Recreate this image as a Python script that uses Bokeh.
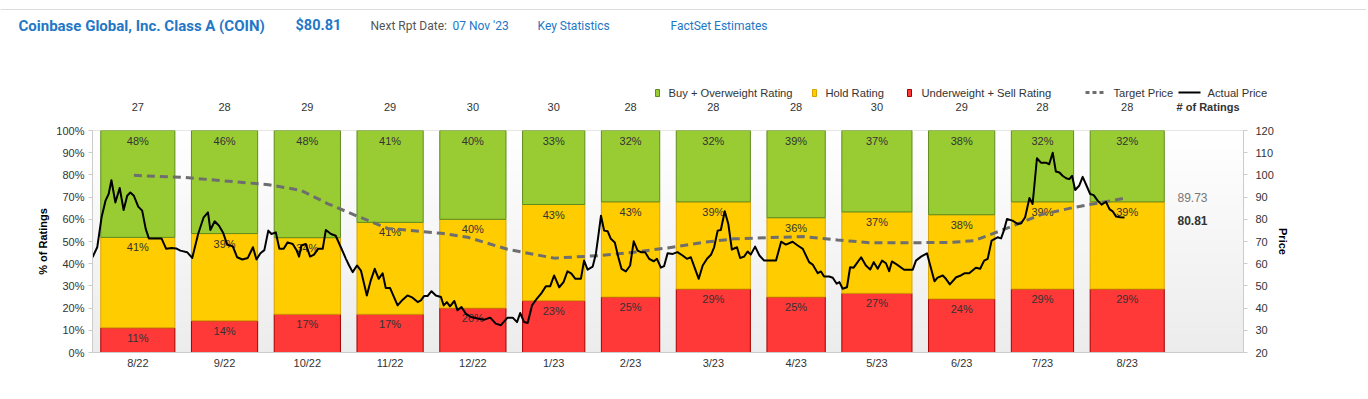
import numpy as np
from bokeh.plotting import figure
from bokeh.layouts import column
from bokeh.models import (Range1d, LinearAxis, FixedTicker, PrintfTickFormatter,
                          Label, Span, ColumnDataSource)
from bokeh.embed import file_html
from bokeh.resources import INLINE
from bokeh.core.properties import value

# ---------------- data ----------------
months = ["8/22", "9/22", "10/22", "11/22", "12/22", "1/23", "2/23",
          "3/23", "4/23", "5/23", "6/23", "7/23", "8/23"]
trading_days = [23, 21, 21, 21, 21, 20, 19, 23, 19, 22, 21, 20, 23]
buy_counts = [13, 13, 14, 12, 12, 10, 9, 9, 11, 11, 11, 9, 9]
hold_counts = [11, 11, 10, 12, 12, 13, 12, 11, 10, 11, 11, 11, 11]
sell_counts = [3, 4, 5, 5, 6, 7, 7, 8, 7, 8, 7, 8, 8]

# actual price, x = trading-day index from 1 Aug 2022
price_day = [0, 1.2, 2.3, 3.3, 4.1, 4.8, 5.8, 6.9, 7.9, 8.8,
             9.6, 10.5, 11.6, 12.6, 13.5, 14.3, 17.5, 18.7, 20.1, 21.2,
             22.3, 24.0, 25.3, 26.8, 28.2, 29.3, 29.9, 31.0, 32.1, 33.1,
             34.2, 35.6, 36.7, 38.0, 39.4, 40.7, 41.6, 42.6, 43.6, 44.6,
             45.4, 46.5, 47.4, 48.5, 49.5, 50.8, 51.8, 52.4, 53.0, 54.1,
             55.2, 56.2, 57.2, 58.4, 59.2, 60.5, 61.7, 63.0, 64.3, 65.1,
             66.0, 67.1, 68.1, 69.6, 70.6, 71.6, 72.6, 73.6, 74.4, 75.5,
             77.4, 78.7, 79.9, 81.2, 82.5, 83.3, 84.1, 85.0, 86.0, 87.1,
             88.4, 89.1, 89.9, 90.7, 91.8, 92.6, 93.6, 94.7, 96.0, 97.7,
             99.4, 100.9, 102.3, 103.6, 105.3, 106.6, 107.7, 108.5, 109.5, 110.4,
             111.5, 112.7, 113.8, 115.0, 116.1, 117.1, 118.4, 119.5, 120.5, 121.5,
             122.5, 123.9, 124.7, 125.6, 126.9, 127.7, 128.3, 129.0, 129.8, 130.7,
             131.5, 132.5, 133.4, 134.2, 135.3, 136.4, 137.3, 138.3, 139.1, 140.2,
             141.2, 142.4, 143.2, 144.2, 145.0, 145.9, 147.2, 148.4, 149.7, 150.8,
             151.8, 152.8, 153.8, 154.8, 155.9, 156.9, 157.7, 158.6, 159.4, 160.4,
             161.3, 162.2, 163.5, 164.3, 165.3, 166.2, 167.0, 168.1, 169.2, 170.4,
             171.7, 173.4, 174.7, 175.9, 177.6, 178.9, 180.2, 181.8, 182.7, 184.0,
             184.8, 185.6, 186.9, 187.8, 188.8, 189.5, 190.3, 191.4, 192.2, 193.1,
             195.0, 196.2, 197.3, 198.2, 199.2, 200.3, 201.3, 202.1, 202.8, 204.1,
             205.9, 208.1, 208.9, 210.2, 211.7, 213.6, 214.4, 215.7, 216.5, 217.5,
             219.1, 220.3, 221.3, 222.4, 224.1, 225.2, 226.2, 227.1, 228.1, 229.6,
             230.5, 231.2, 232.0, 233.4, 234.7, 235.6, 236.6, 237.7, 238.5, 239.6,
             240.6, 241.9, 242.7, 243.6, 244.4, 245.3, 246.1, 247.0, 247.8, 248.5,
             249.3, 250.3, 251.2, 252.0, 253.1, 254.0, 255.0, 256.0, 257.1, 258.0,
             258.8, 259.7, 260.7, 261.8]
price_val = [62.9, 67.4, 80.9, 88.4, 91.4, 97.6, 87.6, 94.1, 84.2, 90.6,
             92.1, 90.6, 85.7, 83.9, 75.7, 71.4, 71.4, 66.7, 67.1, 66.9,
             65.9, 65.2, 62.6, 73.4, 80.9, 83.1, 75.2, 79.1, 77.1, 74.1,
             68.5, 67.8, 62.9, 61.9, 62.6, 67.4, 61.9, 64.7, 66.1, 74.9,
             73.4, 74.1, 66.7, 66.7, 69.6, 68.9, 65.9, 63.2, 68.2, 68.9,
             63.2, 64.1, 66.7, 66.7, 75.2, 73.4, 72.6, 67.4, 62.2, 59.2,
             56.2, 59.2, 56.9, 45.7, 52.5, 57.7, 53.2, 55.7, 49.0, 49.0,
             41.2, 43.8, 45.7, 44.7, 42.7, 43.5, 45.4, 45.4, 47.6, 45.7,
             45.0, 41.2, 42.7, 40.8, 43.2, 39.0, 40.5, 37.5, 36.0, 35.3,
             34.8, 35.7, 33.0, 32.3, 35.7, 35.7, 33.7, 37.8, 33.7, 33.3,
             41.2, 44.2, 46.5, 49.8, 49.8, 54.7, 49.4, 51.7, 56.6, 55.5,
             53.2, 53.2, 61.4, 57.3, 58.7, 64.4, 72.2, 81.6, 74.9, 74.6,
             71.2, 69.6, 62.9, 57.7, 56.5, 59.2, 70.1, 65.9, 65.2, 65.2,
             62.2, 61.1, 62.2, 58.2, 58.9, 64.7, 64.4, 65.2, 63.7, 62.2,
             62.9, 58.0, 53.2, 59.2, 62.2, 64.0, 67.4, 74.9, 75.2, 83.6,
             77.9, 66.4, 67.4, 62.6, 63.2, 65.5, 64.1, 67.7, 63.7, 61.4,
             61.4, 61.4, 69.9, 68.6, 69.9, 68.2, 66.7, 60.7, 59.6, 55.7,
             56.5, 54.2, 54.2, 53.7, 51.0, 51.7, 48.7, 49.4, 58.4, 58.2,
             62.9, 59.2, 57.4, 60.7, 57.7, 61.4, 60.2, 56.6, 61.0, 59.6,
             57.3, 57.3, 61.4, 63.2, 64.7, 52.1, 53.7, 54.7, 53.2, 50.7,
             53.9, 54.7, 55.7, 55.7, 58.2, 57.7, 61.4, 62.2, 70.4, 71.9,
             71.4, 74.9, 80.1, 79.4, 77.9, 78.2, 80.9, 89.6, 86.9, 107.5,
             105.5, 105.5, 104.8, 110.0, 101.5, 101.1, 99.6, 98.5, 98.1, 99.6,
             93.2, 95.1, 99.1, 95.9, 91.4, 90.9, 88.4, 86.6, 87.9, 84.6,
             83.6, 81.2, 80.9, 80.81]

target_day = [10.5, 23.6, 44.7, 52.9, 59.6, 67.2, 74.9, 88.4, 95.2, 105.3,
              117.1, 129.0, 137.4, 145.9, 154.9, 162.8, 174.6, 180.6, 189.0,
              197.5, 206.0, 217.8, 223.7, 232.2, 240.6, 249.1, 262.6]
target_val = [99.8, 98.8, 95.6, 93.0, 87.1, 81.4, 75.9, 73.7, 71.9, 66.5,
              62.5, 63.7, 65.2, 67.1, 69.6, 71.2, 71.9, 72.2, 70.7,
              69.4, 69.4, 69.6, 70.4, 76.1, 82.1, 85.4, 89.73]

assert len(price_day) == len(price_val)
assert len(target_day) == len(target_val)

# ---------------- styling / layout ----------------
FONT = "Liberation Sans"
HFONT = "Roboto"
BLUE = "#2277c6"
TXT = "#333333"
GREEN, GREEN_E = "#99cc33", "#5f8c1c"
YELLOW, YELLOW_E = "#ffcc00", "#d9a400"
RED, RED_E = "#ff3838", "#a30000"
TARGET_C = "#6e6e6e"

W = 1366
TOP_H = 118          # header strip height
MAIN_H = 280         # chart height
F_LEFT, F_RIGHT = 92, 1243   # frame edges on the page
F_TOP, F_BOT = 130, 352
X_END = 292
K = (F_RIGHT - F_LEFT) / X_END   # px per trading day

days = np.array(trading_days, dtype=float)
starts = np.concatenate([[0.0], np.cumsum(days)[:-1]])
centers = starts + days / 2
totals = [b + h + s for b, h, s in zip(buy_counts, hold_counts, sell_counts)]
sell_pct = np.array([100 * s / t for s, t in zip(sell_counts, totals)])
hold_pct = np.array([100 * h / t for h, t in zip(hold_counts, totals)])
buy_pct = np.array([100 * b / t for b, t in zip(buy_counts, totals)])
PAD = 2.1

# ================= header strip (pixel coordinates) =================
top = figure(width=W, height=TOP_H, x_range=Range1d(0, W), y_range=Range1d(TOP_H, 0),
             output_backend="svg", toolbar_location=None,
             x_axis_location=None, y_axis_location=None,
             min_border=0, min_border_left=0, min_border_right=0,
             min_border_top=0, min_border_bottom=0)
top.frame_align = False
top.grid.visible = False
top.outline_line_color = None
top.background_fill_color = "white"
top.border_fill_color = "white"
top.extra_x_ranges = {"days": Range1d(-F_LEFT / K, (W - F_LEFT) / K)}

top.add_layout(Span(location=9, dimension="width", line_color="#dcdcdc", line_width=1))


def hlabel(x, y, text, **kw):
    opts = dict(x=x, y=y, text=text, text_font=FONT, text_font_size="11.2px",
                text_color=TXT, text_baseline="middle", text_align="left")
    opts.update(kw)
    top.add_layout(Label(**opts))


hlabel(18, 25, "Coinbase Global, Inc. Class A (COIN)", text_font=HFONT,
       text_font_style="bold", text_font_size="15px", text_color=BLUE)
hlabel(295, 25, "$80.81", text_font=HFONT, text_font_style="bold",
       text_font_size="14.5px", text_color=BLUE)
hlabel(370, 25, "Next Rpt Date:", text_font=HFONT, text_font_size="12px",
       text_color="#555555")
hlabel(452, 25, "07 Nov '23", text_font=HFONT, text_font_size="12px", text_color=BLUE)
hlabel(537, 25, "Key Statistics", text_font=HFONT, text_font_size="12px", text_color=BLUE)
hlabel(670, 25, "FactSet Estimates", text_font=HFONT, text_font_size="12px",
       text_color=BLUE)

# legend
for x0, fc, lc in ((655, GREEN, GREEN_E), (812, YELLOW, YELLOW_E), (907, RED, RED_E)):
    top.quad(left=x0, right=x0 + 4, top=89, bottom=96, fill_color=fc, line_color=lc)
top.line([1085, 1103], [92, 92], line_color=TARGET_C, line_width=3, line_dash="4 3")
top.line([1178, 1200], [92, 92], line_color="black", line_width=2)
hlabel(668, 92, "Buy + Overweight Rating")
hlabel(825, 92, "Hold Rating")
hlabel(921, 92, "Underweight + Sell Rating")
hlabel(1113, 92, "Target Price")
hlabel(1207, 92, "Actual Price")
hlabel(1239, 106, "# of Ratings", text_align="right", text_font_style="bold",
       text_font_size="11px")

# number of ratings above each bar (placed through the day scale)
top.text(x=centers, y=[106] * len(centers), text=[str(t) for t in totals],
         x_range_name="days", text_align="center", text_baseline="middle",
         text_font=value(FONT), text_font_size="11px", text_color=TXT)

# ================= main chart =================
p = figure(width=W, height=MAIN_H, x_range=Range1d(0, X_END), y_range=Range1d(0, 100),
           output_backend="svg", toolbar_location=None,
           min_border_left=F_LEFT, min_border_right=W - F_RIGHT,
           min_border_top=F_TOP - TOP_H, min_border_bottom=TOP_H + MAIN_H - F_BOT)
p.frame_align = False
p.extra_y_ranges = {"price": Range1d(20, 120)}
p.grid.visible = False
p.outline_line_color = "#dedede"
p.background_fill_color = "white"
p.border_fill_color = "white"

# gradient background of the plot area
n = F_BOT - F_TOP
img = np.empty((n, 1), dtype=np.uint32)
v = img.view(dtype=np.uint8).reshape((n, 1, 4))
for i in range(n):
    g = int(round(236 + 19 * i / (n - 1)))
    v[i, 0] = (g, g, g, 255)
p.image_rgba(image=[img], x=0, y=0, dw=X_END, dh=100)

left = starts + PAD
right = starts + days - PAD
p.quad(left=left, right=right, bottom=0, top=sell_pct,
       fill_color=RED, line_color=RED_E, line_width=1)
p.quad(left=left, right=right, bottom=sell_pct, top=sell_pct + hold_pct,
       fill_color=YELLOW, line_color=YELLOW_E, line_width=1)
p.quad(left=left, right=right, bottom=sell_pct + hold_pct, top=100,
       fill_color=GREEN, line_color=GREEN_E, line_width=1)

lab_x, lab_y, lab_t = [], [], []
for i in range(len(months)):
    for tp, pct in ((100, buy_pct[i]), (sell_pct[i] + hold_pct[i], hold_pct[i]),
                    (sell_pct[i], sell_pct[i])):
        lab_x.append(centers[i])
        lab_y.append(tp)
        lab_t.append(f"{round(pct)}%")
p.text(x="x", y="y", text="t", source=ColumnDataSource(dict(x=lab_x, y=lab_y, t=lab_t)),
       text_align="center", text_baseline="top", y_offset=4,
       text_font=value(FONT), text_font_size="11px", text_color=TXT)

p.line(target_day, target_val, y_range_name="price", line_color=TARGET_C,
       line_width=3, line_dash="8 5")
p.line(price_day, price_val, y_range_name="price", line_color="black",
       line_width=2, line_join="round")

# axes
ya = p.yaxis[0]
ya.ticker = FixedTicker(ticks=list(range(0, 101, 10)))
ya.formatter = PrintfTickFormatter(format="%d%%")
ya.axis_label = "% of Ratings"
xa = p.xaxis[0]
xa.ticker = FixedTicker(ticks=list(centers))
xa.major_label_overrides = {float(c): m for c, m in zip(centers, months)}
xa.major_tick_line_color = None
xa.minor_tick_line_color = None
xa.major_tick_out = 0
xa.major_tick_in = 0
xa.major_label_standoff = 4

ra = LinearAxis(y_range_name="price", axis_label="Price",
                ticker=FixedTicker(ticks=list(range(20, 121, 10))))
p.add_layout(ra, "right")

for ax in (ya, xa, ra):
    ax.axis_line_color = "#cccccc"
    ax.major_label_text_font = FONT
    ax.major_label_text_font_size = "11px"
    ax.major_label_text_color = TXT
    ax.axis_label_text_font = FONT
    ax.axis_label_text_font_size = "11px"
    ax.axis_label_text_font_style = "bold"
    ax.axis_label_text_color = "black"
for ax in (ya, ra):
    ax.major_tick_line_color = "#cccccc"
    ax.major_tick_out = 4
    ax.major_tick_in = 0
    ax.minor_tick_line_color = None
ya.major_label_standoff = 4
ya.axis_label_standoff = 4
ra.major_label_standoff = 8
ra.axis_label_standoff = 0

# last values at the right of the plot
p.add_layout(Label(x=1177 - F_LEFT, x_units="screen", y=target_val[-1], y_range_name="price",
                   text=f"{target_val[-1]:.2f}", text_font=FONT, text_font_size="12px",
                   text_color="#777777", text_baseline="middle"))
p.add_layout(Label(x=1177 - F_LEFT, x_units="screen", y=price_val[-1] - 1.5,
                   y_range_name="price", text=f"{price_val[-1]:.2f}", text_font=FONT,
                   text_font_size="12px", text_font_style="bold", text_color=TXT,
                   text_baseline="middle"))

layout = column(top, p, spacing=0)
open("out.html", "w").write(file_html(layout, INLINE))
